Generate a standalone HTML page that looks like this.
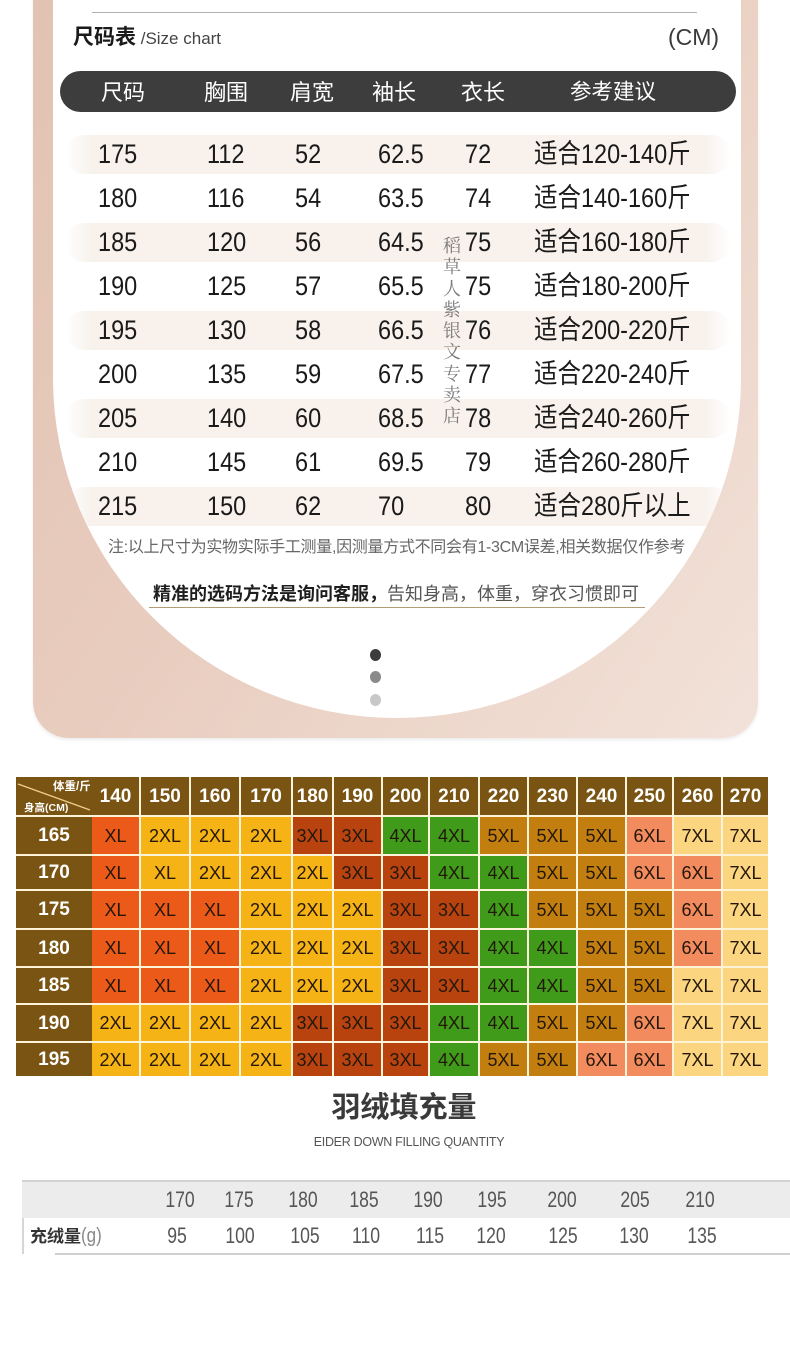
<!DOCTYPE html>
<html><head><meta charset="utf-8">
<style>
*{margin:0;padding:0;box-sizing:border-box}
body{width:790px;height:1358px;position:relative;overflow:hidden;background:#fff;font-family:"Liberation Sans","Noto Sans CJK SC",sans-serif;color:#1e1e1e}
.a{position:absolute;white-space:nowrap}
.card{left:33px;top:-40px;width:725px;height:778px;border-radius:36px;background:linear-gradient(125deg,#e2c2b2 0%,#e8ccbe 45%,#f2e2d9 100%);box-shadow:0 2px 3px rgba(0,0,0,.08)}
.white{left:53px;top:-10px;width:688px;height:728px;background:#fff;border-radius:0 0 344px 344px/0 0 340px 340px;overflow:hidden}
.pill{position:absolute;left:12px;width:666px;height:39px;border-radius:20px;background:linear-gradient(90deg,rgba(248,241,236,0) 0,#f8f1ec 28px,#f8f1ec 638px,rgba(248,241,236,0) 666px)}
.bar{left:60px;top:71px;width:676px;height:41px;border-radius:21px;background:#3d3d3d}
.ht{position:absolute;top:0;height:41px;line-height:43px;color:#fff;font-size:22px}
.row{position:absolute;left:0;width:790px;height:32px;line-height:32px;font-size:27px;color:#1a1a1a}
.row span{position:absolute;top:0;transform:scaleX(.87);transform-origin:0 50%;white-space:nowrap}
.c1{left:98px}.c2{left:207px}.c3{left:295px}.c4{left:378px}.c5{left:465px}.c6{left:534px}
.dot{position:absolute;left:370px;width:11px;height:12px;border-radius:50%}
.grid{position:absolute;left:16px;width:752px;top:777px;height:299px}
.g{position:absolute;left:16px;display:flex}
.g>div{height:100%;border-right:2px solid #fcf3d8;border-bottom:2px solid #fcf3d8;display:flex;align-items:center;justify-content:center;font-size:18px;color:#24170b;padding-top:1px;white-space:nowrap}
.g>div:last-child{border-right:none}
.g>div:nth-child(1){width:76px;border-right:none;background:#7a5412;color:#fff;font-weight:bold;font-size:19px}
.g>div:nth-child(2){width:49px}.g>div:nth-child(3){width:50px}.g>div:nth-child(4){width:50px}
.g>div:nth-child(5){width:52px}.g>div:nth-child(6){width:41px}.g>div:nth-child(7){width:49px}
.g>div:nth-child(8){width:47px}.g>div:nth-child(9){width:50px}.g>div:nth-child(10){width:49px}
.g>div:nth-child(11){width:49px}.g>div:nth-child(12){width:49px}.g>div:nth-child(13){width:47px}
.g>div:nth-child(14){width:49px}.g>div:nth-child(15){width:45px}
.hd>div{background:#7a5412;color:#fff;font-weight:bold;font-size:19px}
.last>div{border-bottom:none}
.x1{background:#ec5a19}.x2{background:#f6b315}.x3{background:#b8430f}.x4{background:#3f9b19}
.x5{background:#c27f10}.x6{background:#f28b5d}.x7{background:#fbd580}
.bn{position:absolute;width:60px;text-align:center;height:28px;line-height:28px;font-size:22px;color:#555;transform:scaleX(.8)}
</style></head><body>

<div class="a card"></div>
<div class="a white">
  <div class="pill" style="top:145px"></div>
  <div class="pill" style="top:233px"></div>
  <div class="pill" style="top:321px"></div>
  <div class="pill" style="top:409px"></div>
  <div class="pill" style="top:497px"></div>
</div>

<div class="a" style="left:92px;top:12px;width:605px;height:1px;background:#b0b0b0"></div>
<div class="a" style="left:73px;top:22px;height:32px;line-height:32px"><b style="font-size:21px;color:#1a1a1a">尺码表</b><span style="font-size:17px;color:#444"> /Size chart</span></div>
<div class="a" style="left:668px;top:21px;height:32px;line-height:32px;font-size:23px;color:#3a3a3a">(CM)</div>

<div class="a bar">
  <div class="ht" style="left:41px">尺码</div>
  <div class="ht" style="left:144px">胸围</div>
  <div class="ht" style="left:230px">肩宽</div>
  <div class="ht" style="left:312px">袖长</div>
  <div class="ht" style="left:401px">衣长</div>
  <div class="ht" style="left:510px;font-size:21.5px">参考建议</div>
</div>

<div class="row" style="top:138px"><span class="c1">175</span><span class="c2">112</span><span class="c3">52</span><span class="c4">62.5</span><span class="c5">72</span><span class="c6">适合120-140斤</span></div>
<div class="row" style="top:182px"><span class="c1">180</span><span class="c2">116</span><span class="c3">54</span><span class="c4">63.5</span><span class="c5">74</span><span class="c6">适合140-160斤</span></div>
<div class="row" style="top:226px"><span class="c1">185</span><span class="c2">120</span><span class="c3">56</span><span class="c4">64.5</span><span class="c5">75</span><span class="c6">适合160-180斤</span></div>
<div class="row" style="top:270px"><span class="c1">190</span><span class="c2">125</span><span class="c3">57</span><span class="c4">65.5</span><span class="c5">75</span><span class="c6">适合180-200斤</span></div>
<div class="row" style="top:314px"><span class="c1">195</span><span class="c2">130</span><span class="c3">58</span><span class="c4">66.5</span><span class="c5">76</span><span class="c6">适合200-220斤</span></div>
<div class="row" style="top:358px"><span class="c1">200</span><span class="c2">135</span><span class="c3">59</span><span class="c4">67.5</span><span class="c5">77</span><span class="c6">适合220-240斤</span></div>
<div class="row" style="top:402px"><span class="c1">205</span><span class="c2">140</span><span class="c3">60</span><span class="c4">68.5</span><span class="c5">78</span><span class="c6">适合240-260斤</span></div>
<div class="row" style="top:446px"><span class="c1">210</span><span class="c2">145</span><span class="c3">61</span><span class="c4">69.5</span><span class="c5">79</span><span class="c6">适合260-280斤</span></div>
<div class="row" style="top:490px"><span class="c1">215</span><span class="c2">150</span><span class="c3">62</span><span class="c4">70</span><span class="c5">80</span><span class="c6">适合280斤以上</span></div>

<div class="a" style="left:442px;top:236px;width:20px;font-family:'Liberation Serif','Noto Serif CJK SC',serif;font-size:18px;line-height:21.3px;color:#7a7a7a;white-space:normal;text-align:center">稻草人紫银文专卖店</div>

<div class="a" style="left:108px;top:537px;height:22px;line-height:22px;font-size:16px;letter-spacing:-0.3px;color:#666">注:以上尺寸为实物实际手工测量,因测量方式不同会有1-3CM误差,相关数据仅作参考</div>

<div class="a" style="left:153px;top:582px;height:24px;line-height:24px;font-size:18px"><b style="color:#1e1e1e">精准的选码方法是询问客服，</b><span style="color:#555">告知身高，体重，穿衣习惯即可</span></div>
<div class="a" style="left:149px;top:607px;width:496px;height:1px;background:#b39d72"></div>

<div class="dot" style="top:649px;background:#3c3c3c"></div>
<div class="dot" style="top:671px;background:#8a8a8a"></div>
<div class="dot" style="top:694px;background:#c8c8c8"></div>

<!-- color grid -->
<div class="grid" style="background:#fcf3d8"></div>
<div class="g hd" style="top:777px;height:40px">
  <div style="position:relative">
    <svg width="76" height="38" style="position:absolute;left:0;top:0"><line x1="2" y1="7" x2="74" y2="33" stroke="#ecd08a" stroke-width="1.3"/></svg>
    <span style="position:absolute;left:37px;top:2px;font-size:11.5px;line-height:16px;white-space:nowrap">体重/斤</span>
    <span style="position:absolute;left:8px;top:25px;font-size:10.5px;line-height:13px;white-space:nowrap">身高(CM)</span>
  </div>
  <div>140</div><div>150</div><div>160</div><div>170</div><div>180</div><div>190</div><div>200</div><div>210</div><div>220</div><div>230</div><div>240</div><div>250</div><div>260</div><div>270</div>
</div>
<div class="g" style="top:817px;height:39px"><div>165</div><div class="x1">XL</div><div class="x2">2XL</div><div class="x2">2XL</div><div class="x2">2XL</div><div class="x3">3XL</div><div class="x3">3XL</div><div class="x4">4XL</div><div class="x4">4XL</div><div class="x5">5XL</div><div class="x5">5XL</div><div class="x5">5XL</div><div class="x6">6XL</div><div class="x7">7XL</div><div class="x7">7XL</div></div>
<div class="g" style="top:856px;height:35px"><div>170</div><div class="x1">XL</div><div class="x2">XL</div><div class="x2">2XL</div><div class="x2">2XL</div><div class="x2">2XL</div><div class="x3">3XL</div><div class="x3">3XL</div><div class="x4">4XL</div><div class="x4">4XL</div><div class="x5">5XL</div><div class="x5">5XL</div><div class="x6">6XL</div><div class="x6">6XL</div><div class="x7">7XL</div></div>
<div class="g" style="top:891px;height:39px"><div>175</div><div class="x1">XL</div><div class="x1">XL</div><div class="x1">XL</div><div class="x2">2XL</div><div class="x2">2XL</div><div class="x2">2XL</div><div class="x3">3XL</div><div class="x3">3XL</div><div class="x4">4XL</div><div class="x5">5XL</div><div class="x5">5XL</div><div class="x5">5XL</div><div class="x6">6XL</div><div class="x7">7XL</div></div>
<div class="g" style="top:930px;height:38px"><div>180</div><div class="x1">XL</div><div class="x1">XL</div><div class="x1">XL</div><div class="x2">2XL</div><div class="x2">2XL</div><div class="x2">2XL</div><div class="x3">3XL</div><div class="x3">3XL</div><div class="x4">4XL</div><div class="x4">4XL</div><div class="x5">5XL</div><div class="x5">5XL</div><div class="x6">6XL</div><div class="x7">7XL</div></div>
<div class="g" style="top:968px;height:37px"><div>185</div><div class="x1">XL</div><div class="x1">XL</div><div class="x1">XL</div><div class="x2">2XL</div><div class="x2">2XL</div><div class="x2">2XL</div><div class="x3">3XL</div><div class="x3">3XL</div><div class="x4">4XL</div><div class="x4">4XL</div><div class="x5">5XL</div><div class="x5">5XL</div><div class="x7">7XL</div><div class="x7">7XL</div></div>
<div class="g" style="top:1005px;height:38px"><div>190</div><div class="x2">2XL</div><div class="x2">2XL</div><div class="x2">2XL</div><div class="x2">2XL</div><div class="x3">3XL</div><div class="x3">3XL</div><div class="x3">3XL</div><div class="x4">4XL</div><div class="x4">4XL</div><div class="x5">5XL</div><div class="x5">5XL</div><div class="x6">6XL</div><div class="x7">7XL</div><div class="x7">7XL</div></div>
<div class="g last" style="top:1043px;height:33px"><div>195</div><div class="x2">2XL</div><div class="x2">2XL</div><div class="x2">2XL</div><div class="x2">2XL</div><div class="x3">3XL</div><div class="x3">3XL</div><div class="x3">3XL</div><div class="x4">4XL</div><div class="x5">5XL</div><div class="x5">5XL</div><div class="x6">6XL</div><div class="x6">6XL</div><div class="x7">7XL</div><div class="x7">7XL</div></div>

<!-- down filling -->
<div class="a" style="left:0;width:808px;top:1088px;height:40px;line-height:40px;text-align:center;font-size:29px;font-weight:bold;color:#3a3a3a">羽绒填充量</div>
<div class="a" style="left:0;width:818px;top:1133px;height:18px;line-height:18px;text-align:center;font-size:12.5px;letter-spacing:-0.3px;color:#555">EIDER DOWN FILLING QUANTITY</div>

<div class="a" style="left:22px;top:1180px;width:768px;height:38px;background:#ececec;border-top:2px solid #d2d2d2"></div>
<div class="a" style="left:22px;top:1218px;width:2px;height:36px;background:#d6d6d6"></div>
<div class="a" style="left:55px;top:1253px;width:735px;height:2px;background:#d0d0d0"></div>

<div class="bn" style="left:150px;top:1186px">170</div>
<div class="bn" style="left:209px;top:1186px">175</div>
<div class="bn" style="left:273px;top:1186px">180</div>
<div class="bn" style="left:334px;top:1186px">185</div>
<div class="bn" style="left:398px;top:1186px">190</div>
<div class="bn" style="left:462px;top:1186px">195</div>
<div class="bn" style="left:532px;top:1186px">200</div>
<div class="bn" style="left:605px;top:1186px">205</div>
<div class="bn" style="left:670px;top:1186px">210</div>

<div class="bn" style="left:147px;top:1222px">95</div>
<div class="bn" style="left:210px;top:1222px">100</div>
<div class="bn" style="left:275px;top:1222px">105</div>
<div class="bn" style="left:336px;top:1222px">110</div>
<div class="bn" style="left:400px;top:1222px">115</div>
<div class="bn" style="left:461px;top:1222px">120</div>
<div class="bn" style="left:533px;top:1222px">125</div>
<div class="bn" style="left:604px;top:1222px">130</div>
<div class="bn" style="left:672px;top:1222px">135</div>

<div class="a" style="left:30px;top:1223px;height:26px;line-height:26px"><b style="font-size:17px;color:#333">充绒量</b><span style="font-size:20px;color:#888;display:inline-block;transform:scaleX(.85);transform-origin:0 50%">(g)</span></div>

</body></html>
